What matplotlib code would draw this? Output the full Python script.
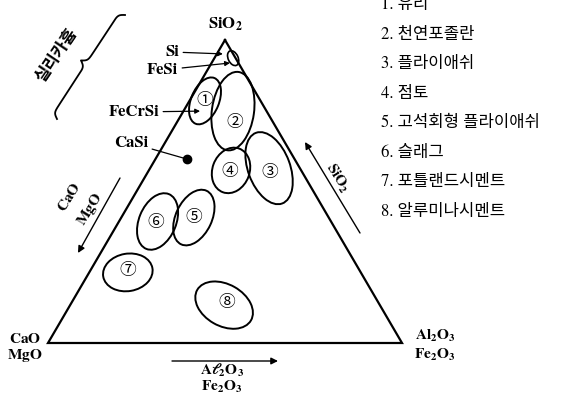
import numpy as np
import matplotlib
matplotlib.use('Agg')
import matplotlib.pyplot as plt
from matplotlib.patches import Ellipse

plt.rcParams['font.family'] = ['STIXGeneral', 'Noto Sans CJK KR', 'DejaVu Sans']
plt.rcParams['mathtext.fontset'] = 'stix'

# material regions, composition in % (SiO2, CaO+MgO, Al2O3+Fe2O3)
regions = ['①', '②', '③', '④', '⑤', '⑥', '⑦', '⑧']
region_sio2 = [79.9, 76.6, 57.7, 56.9, 41.4, 40.1, 23.3, 12.5]
region_cao = [15.7, 9.5, 8.7, 19.8, 38.1, 49.0, 65.8, 44.0]
region_al2o3 = [4.4, 14.0, 33.6, 23.2, 20.5, 10.9, 10.9, 43.5]
region_long = [14.1, 22.6, 21.5, 13.3, 16.9, 16.9, 14.1, 17.5]
region_short = [7.9, 11.9, 11.9, 10.5, 10.2, 10.5, 10.7, 11.9]
region_tilt = [68, 82, 110, 70, 65, 68, 10, -30]

# silica fume pocket at the SiO2 corner
fume_sio2, fume_cao, fume_al2o3 = 94.0, 0.7, 5.3
fume_long, fume_short, fume_tilt = 4.5, 2.8, 115

# alloys pointed at
alloys = ['Si', 'FeSi', 'FeCrSi', 'CaSi']
alloy_sio2 = [95.4, 92.4, 76.6, 60.7]
alloy_cao = [2.9, 2.4, 18.8, 30.4]
alloy_al2o3 = [1.7, 5.2, 4.7, 8.9]

legend_items = ['유리', '천연포졸란', '플라이애쉬', '점토', '고석회형 플라이애쉬',
                '슬래그', '포틀랜드시멘트', '알루미나시멘트']


def tern(si, ca, al):
    s = si + ca + al
    si, al = si / s, al / s
    return al + si / 2, si * np.sqrt(3) / 2


SX, SY = 354.0, 349.9


def px(x, y):
    # layout helper: image pixel (from top-left) -> data
    return (x - 48) / SX, (343 - y) / SY


fig = plt.figure(figsize=(5.68, 3.99), dpi=100)
ax = fig.add_axes([0, 0, 1, 1])
ax.set_xlim(-48 / SX, 520 / SX)
ax.set_ylim(-56 / SY, 343 / SY)
ax.axis('off')

# triangle
corners = [tern(100, 0, 0), tern(0, 100, 0), tern(0, 0, 100), tern(100, 0, 0)]
ax.plot([c[0] for c in corners], [c[1] for c in corners], color='black', lw=1.6,
        solid_joinstyle='miter')

# regions
label_shift = [(0, 0), (2, 11), (1, 4), (-1, 1.5), (0, 0), (-1.5, 1.5), (0, -1.5), (3, -3)]
for i, lab in enumerate(regions):
    cx, cy = tern(region_sio2[i], region_cao[i], region_al2o3[i])
    ax.add_patch(Ellipse((cx, cy), region_long[i] / 100, region_short[i] / 100,
                         angle=region_tilt[i], fill=False, lw=1.4, color='black'))
    dx, dy = label_shift[i]
    ax.text(cx + dx / SX, cy - dy / SY, lab, ha='center', va='center', fontsize=12,
            family=['Noto Sans CJK KR', 'DejaVu Sans'])

fx, fy = tern(fume_sio2, fume_cao, fume_al2o3)
ax.add_patch(Ellipse((fx, fy), fume_long / 100, fume_short / 100, angle=fume_tilt,
                     fill=False, lw=1.2, color='black'))

# alloy pointers
text_at = [(179, 52), (178, 70), (159, 112), (148, 143)]
for i, name in enumerate(alloys):
    target = tern(alloy_sio2[i], alloy_cao[i], alloy_al2o3[i])
    style = '-' if name == 'CaSi' else '-|>'
    ax.annotate(name, xy=target, xytext=px(*text_at[i]), ha='right', va='center',
                fontsize=12, fontweight='bold',
                arrowprops=dict(arrowstyle=style, lw=0.9, color='black',
                                mutation_scale=7, shrinkA=1, shrinkB=0))
    if name == 'CaSi':
        ax.plot(*target, marker='o', ms=6, color='black')

# corner labels
ax.text(*px(225, 24), r'$\mathbf{SiO_2}$', ha='center', va='center', fontsize=12)
ax.text(*px(25, 339), r'$\mathbf{CaO}$', ha='center', va='center', fontsize=11)
ax.text(*px(25, 355), r'$\mathbf{MgO}$', ha='center', va='center', fontsize=11)
ax.text(*px(435, 336), r'$\mathbf{Al_2O_3}$', ha='center', va='center', fontsize=11)
ax.text(*px(435, 355), r'$\mathbf{Fe_2O_3}$', ha='center', va='center', fontsize=11)

# direction arrows
arrow_kw = dict(arrowstyle='-|>', lw=1.0, color='black', mutation_scale=10,
                shrinkA=0, shrinkB=0)
ax.annotate('', xy=px(78, 253), xytext=px(120, 178), arrowprops=arrow_kw)
ax.text(*px(69, 197), r'$\mathbf{CaO}$', ha='center', va='center', fontsize=11, rotation=58)
ax.text(*px(90, 209), r'$\mathbf{MgO}$', ha='center', va='center', fontsize=11, rotation=58)

ax.annotate('', xy=px(305, 142), xytext=px(360, 233), arrowprops=arrow_kw)
ax.text(*px(337, 178), r'$\mathbf{SiO_2}$', ha='center', va='center', fontsize=11, rotation=-58)

ax.annotate('', xy=px(278, 361), xytext=px(172, 361), arrowprops=arrow_kw)
ax.text(*px(222, 370), r'$\mathbf{A\ell_2O_3}$', ha='center', va='center', fontsize=11)
ax.text(*px(222, 387), r'$\mathbf{Fe_2O_3}$', ha='center', va='center', fontsize=11)

# brace for silica fume
p0, p1 = np.array([57.0, 119.0]), np.array([125.0, 15.0])
d = p1 - p0
L = np.hypot(*d)
u = d / L
nrm = np.array([u[1], -u[0]])
m = 150
t = np.linspace(0, 1, 2 * m + 1)
half = t[:m + 1]
beta = 70
yh = 1 / (1 + np.exp(-beta * (half - half[0]))) + 1 / (1 + np.exp(-beta * (half - half[-1])))
yb = np.concatenate([yh, yh[-2::-1]])
yb = (yb - yb.min()) / (yb.max() - yb.min())
pts = p0 + np.outer(t * L, u) + np.outer(yb * 12, nrm)
bx, by = px(pts[:, 0], pts[:, 1])
ax.plot(bx, by, color='black', lw=1.3)
ax.text(*px(57, 55), '실리카흄', ha='center', va='center', fontsize=12,
        fontweight='bold', rotation=56)

# legend list
for i, item in enumerate(legend_items):
    ax.text(*px(381, 5 + 29.5 * i), f'{i + 1}. {item}', ha='left', va='center',
            fontsize=12)

fig.savefig('out.png', dpi=100)
